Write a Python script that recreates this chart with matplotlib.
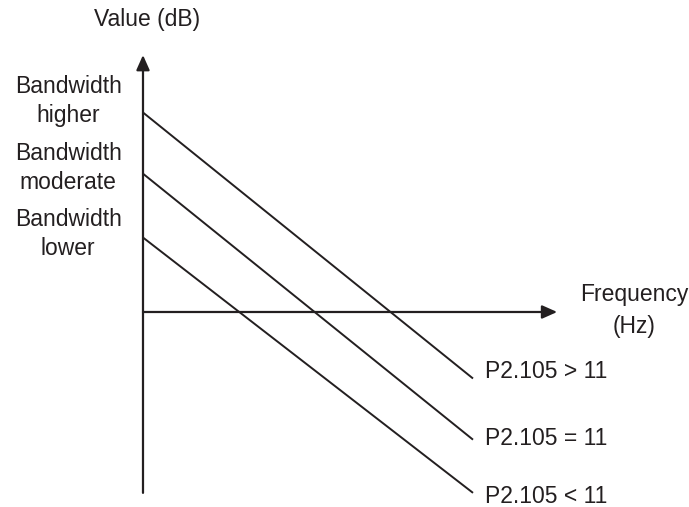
import matplotlib
matplotlib.use('Agg')
import matplotlib.pyplot as plt

# curves: start / end value at the two frequency points
freq = [0, 10]
val_higher = [7.5, -2.5]
val_moderate = [5.2, -4.8]
val_lower = [2.8, -6.8]
side_labels = ['Bandwidth\nhigher', 'Bandwidth\nmoderate', 'Bandwidth\nlower']
end_labels = ['P2.105 > 11', 'P2.105 = 11', 'P2.105 < 11']

ink = '#231f20'
plt.rcParams['font.family'] = ['Liberation Sans', 'DejaVu Sans']

fig = plt.figure(figsize=(6.89, 5.07), dpi=100)
ax = fig.add_axes([0, 0, 1, 1])
ax.set_xlim(-4.333, 16.545)
ax.set_ylim(-7.331, 11.729)
ax.axis('off')

# axes with arrow heads
arr = dict(arrowstyle='-|>,head_length=0.45,head_width=0.2', color=ink, lw=1.6,
           shrinkA=0, shrinkB=0, mutation_scale=20)
ax.annotate('', xy=(12.55, 0), xytext=(0, 0), arrowprops=arr)
ax.annotate('', xy=(0, 9.66), xytext=(0, -6.8), arrowprops=arr)

for v in [val_higher, val_moderate, val_lower]:
    ax.plot(freq, v, color=ink, lw=1.4, solid_capstyle='butt')

fs = 16.5
ax.text(0.12, 10.98, 'Value (dB)', ha='center', va='center', fontsize=fs, color=ink)
ax.text(14.88, 0.04, 'Frequency\n(Hz)', ha='center', va='center', fontsize=fs,
        color=ink, linespacing=1.5)

side_y = [7.93, 5.41, 2.93]
for lab, y in zip(side_labels, side_y):
    ax.text(-2.27, y, lab, ha='center', va='center', fontsize=fs, color=ink,
            linespacing=1.35)

end_y = [-2.22, -4.74, -6.92]
for lab, y in zip(end_labels, end_y):
    ax.text(10.36, y, lab, ha='left', va='center', fontsize=fs, color=ink)

fig.savefig('out.png', dpi=100)
